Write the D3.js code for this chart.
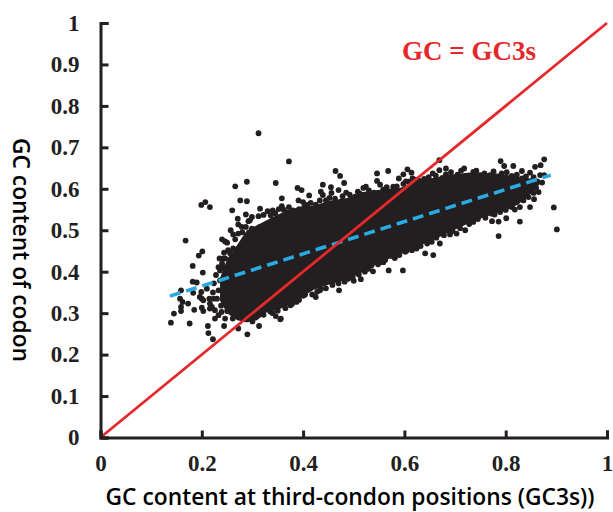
<!DOCTYPE html>
<html>
<head>
<meta charset="utf-8">
<script src="https://cdn.jsdelivr.net/npm/d3@7"></script>
<style>
html, body { margin: 0; padding: 0; background: #fff; }
svg { display: block; }
</style>
</head>
<body>
<div id="chart"></div>
<script>
// Ticks
var xTicks = [0, 0.2, 0.4, 0.6, 0.8, 1];
var yTicks = [0, 0.1, 0.2, 0.3, 0.4, 0.5, 0.6, 0.7, 0.8, 0.9, 1];

// The middle of the cloud is solid black in the picture, single genes can't be read there,
// so it is kept as a lower/upper envelope read per x position.
var coreX = [.236,.250,.270,.289,.309,.329,.348,.368,.388,.420,.453,.487,.518,.552,.591,.625,.656,.690,.724,.755,.789,.814,.842,.868];
var coreLow = [.330,.300,.283,.278,.283,.303,.307,.317,.331,.356,.370,.380,.399,.423,.441,.460,.476,.496,.515,.530,.544,.554,.578,.612];
var coreHigh = [.385,.430,.465,.500,.512,.525,.537,.547,.554,.559,.571,.578,.592,.597,.602,.619,.626,.634,.639,.639,.636,.631,.626,.622];

// Separate dots around the core: [GC3s, GC]
var upperLeftPoints = [
    [.312,.734],[.372,.666],[.266,.606],[.289,.617],[.346,.614],[.207,.568],[.199,.561],[.216,.556],
    [.276,.572],[.289,.570],[.260,.548],[.168,.475],[.201,.449],[.194,.439],[.182,.414],[.240,.478],
    [.246,.473],[.244,.446],[.235,.432],[.287,.538],[.312,.534],[.315,.552],[.340,.548],[.336,.536],
    [.257,.500],[.272,.514],[.271,.528],[.292,.522],[.299,.532],[.262,.456],[.246,.432],[.256,.429],
    [.272,.492],[.295,.524],[.315,.508],[.279,.508],[.287,.508],[.299,.504],[.250,.470],[.262,.490],
    [.252,.452],[.266,.478],[.280,.495],[.240,.420],[.228,.392],[.224,.372]
];
var lowerLeftPoints = [
    [.202,.398],[.182,.376],[.190,.374],[.159,.355],[.157,.335],[.162,.327],[.173,.323],[.159,.315],
    [.159,.305],[.145,.299],[.139,.277],[.176,.275],[.185,.308],[.200,.313],[.203,.305],[.212,.269],
    [.213,.252],[.222,.237],[.244,.269],[.272,.263],[.290,.249],[.313,.269],[.335,.304],[.346,.293],
    [.355,.285],[.220,.315],[.226,.287],[.246,.287],[.261,.287],[.200,.335],[.183,.349],[.215,.335],
    [.199,.351],[.210,.359],[.203,.331],[.196,.339],[.216,.323],[.226,.307],[.233,.295],[.239,.303],
    [.216,.311],[.223,.335],[.233,.355],[.236,.379],[.236,.403],[.243,.411],[.233,.411],[.243,.432],
    [.256,.444],[.222,.350],[.230,.335],[.238,.318],[.250,.305],[.262,.298],[.275,.290],[.288,.285]
];
var upperMiddlePoints = [
    [.464,.643],[.473,.631],[.481,.614],[.439,.610],[.389,.602],[.397,.597],[.412,.584],[.358,.577],
    [.435,.593],[.439,.585],[.433,.572],[.455,.604],[.456,.590],[.470,.597],[.485,.591],[.478,.582],
    [.495,.578],[.487,.563],[.508,.593],[.519,.602],[.524,.605],[.546,.637],[.568,.643],[.546,.619],
    [.552,.610],[.549,.591],[.578,.605],[.589,.625],[.572,.594],[.391,.572],[.400,.568],[.392,.551],
    [.420,.552],[.432,.552],[.470,.560],[.358,.558],[.368,.543]
];
var upperRightPoints = [
    [.606,.647],[.614,.639],[.598,.635],[.608,.617],[.621,.622],[.639,.624],[.656,.637],[.669,.645],
    [.669,.669],[.682,.649],[.682,.635],[.718,.649],[.736,.641],[.716,.629],[.749,.633],[.769,.633],
    [.790,.667],[.797,.655],[.815,.655],[.832,.643],[.848,.639],[.858,.653],[.869,.657],[.876,.671],
    [.792,.637],[.812,.631],[.832,.625],[.868,.633],[.876,.633]
];
var lowerRightPoints = [
    [.895,.555],[.901,.502],[.786,.486],[.828,.521],[.801,.529],[.786,.521],[.773,.522],[.848,.556],
    [.856,.575],[.845,.580],[.832,.585],[.828,.556],[.812,.556],[.822,.568],[.789,.544],[.772,.540],
    [.736,.520],[.720,.500],[.703,.492],[.690,.490],[.670,.468],[.654,.472],[.657,.440],[.641,.444],
    [.624,.456],[.605,.452],[.848,.605],[.835,.597],[.815,.593],[.860,.602],[.872,.615],[.855,.612]
];
var lowerMiddlePoints = [
    [.425,.339],[.471,.355],[.435,.358],[.500,.378],[.514,.382],[.538,.401],[.569,.403],[.597,.403],
    [.558,.423],[.581,.433],[.486,.385],[.404,.345],[.414,.361],[.356,.287],[.375,.319],[.387,.327],
    [.407,.355],[.433,.355],[.489,.383],[.529,.407],[.558,.423],[.581,.435]
];
// Dots that make the bumpy rim of the core.
var topRimPoints = [
    [.322,.537],[.330,.546],[.345,.541],[.352,.551],[.362,.549],[.372,.556],[.380,.548],[.402,.556],
    [.408,.561],[.415,.566],[.425,.562],[.445,.572],[.452,.578],[.463,.576],[.476,.570],[.492,.586],
    [.503,.581],[.512,.588],[.530,.596],[.540,.591],[.558,.598],[.565,.604],[.585,.606],[.598,.612],
    [.603,.618],[.616,.625],[.630,.619],[.648,.628],[.662,.632],[.675,.626],[.692,.640],[.705,.634],
    [.712,.644],[.728,.632],[.742,.644],[.758,.637],[.776,.642],[.783,.630],[.802,.640],[.822,.634],
    [.840,.630],[.855,.628],[.862,.618]
];
var bottomRimPoints = [
    [.300,.280],[.322,.296],[.340,.300],[.350,.306],[.365,.312],[.378,.322],[.392,.332],[.400,.342],
    [.418,.345],[.428,.352],[.445,.360],[.458,.368],[.470,.372],[.482,.376],[.498,.387],[.510,.393],
    [.522,.400],[.535,.415],[.548,.418],[.562,.428],[.575,.438],[.590,.440],[.602,.448],[.615,.452],
    [.632,.462],[.645,.468],[.663,.482],[.678,.488],[.695,.498],[.710,.505],[.728,.515],[.745,.527],
    [.760,.530],[.778,.538],[.800,.549],[.818,.550],[.835,.572],[.855,.590],[.865,.592]
];

var equalLine = [[0, 0], [1, 1]];
var fitLine = [[.137, .341], [.889, .633]];

var width = 613, height = 512;
var ink = '#231f20';
var serif = '"Liberation Serif", serif';
var sans = '"Open Sans", sans-serif';

var svg = d3.select('#chart').append('svg')
    .attr('width', width)
    .attr('height', height);

var x = d3.scaleLinear().domain([0, 1]).range([100.5, 607]);
var y = d3.scaleLinear().domain([0, 1]).range([437.5, 23]);

// Cloud core.
var coreArea = d3.area()
    .x(function(d) { return x(d[0]); })
    .y0(function(d) { return y(d[1]); })
    .y1(function(d) { return y(d[2]); })
    .curve(d3.curveLinear);

svg.append('path')
    .datum(d3.zip(coreX, coreLow, coreHigh))
    .attr('d', coreArea)
    .attr('fill', ink);

// Single dots.
var allPoints = [].concat(upperLeftPoints, lowerLeftPoints, upperMiddlePoints,
    upperRightPoints, lowerRightPoints, lowerMiddlePoints, topRimPoints, bottomRimPoints);

svg.append('g').selectAll('circle')
    .data(allPoints)
    .enter()
    .append('circle')
    .attr('cx', function(d) { return x(d[0]); })
    .attr('cy', function(d) { return y(d[1]); })
    .attr('r', 2.9)
    .attr('fill', ink);

var line = d3.line()
    .x(function(d) { return x(d[0]); })
    .y(function(d) { return y(d[1]); });

// Fit line, then GC = GC3s on top.
svg.append('path')
    .datum(fitLine)
    .attr('d', line)
    .attr('fill', 'none')
    .attr('stroke', '#29abe2')
    .attr('stroke-width', 3.6)
    .attr('stroke-dasharray', '11 6');

svg.append('path')
    .datum(equalLine)
    .attr('d', line)
    .attr('fill', 'none')
    .attr('stroke', '#e5282c')
    .attr('stroke-width', 2.8);

// Axes.
var xAxis = d3.axisBottom(x)
    .tickValues(xTicks)
    .tickSize(-7)
    .tickPadding(17)
    .tickFormat(function(d) { return d; });

var yAxis = d3.axisLeft(y)
    .tickValues(yTicks)
    .tickSize(-8)
    .tickPadding(21)
    .tickFormat(function(d) { return d; });

[[xAxis, 'translate(0,' + y(0) + ')'], [yAxis, 'translate(' + x(0) + ',0)']].forEach(function(a) {
    var g = svg.append('g')
        .attr('transform', a[1])
        .call(a[0]);
    g.select('.domain').attr('stroke', ink).attr('stroke-width', 3);
    g.selectAll('.tick line').attr('stroke', ink).attr('stroke-width', 3);
    g.selectAll('.tick text')
        .attr('fill', ink)
        .style('font-family', serif)
        .style('font-weight', 'bold')
        .style('font-size', '23px');
});

// Titles.
svg.append('text')
    .attr('x', 350)
    .attr('y', 505)
    .attr('text-anchor', 'middle')
    .style('font-family', sans)
    .style('font-weight', 600)
    .style('font-size', '22.8px')
    .attr('fill', '#000')
    .text('GC content at third-condon positions (GC3s))');

svg.append('text')
    .attr('transform', 'translate(13,250) rotate(90)')
    .attr('text-anchor', 'middle')
    .style('font-family', sans)
    .style('font-weight', 600)
    .style('font-size', '22.8px')
    .attr('fill', '#000')
    .text('GC content of codon');

svg.append('text')
    .attr('x', 402)
    .attr('y', 60)
    .style('font-family', serif)
    .style('font-weight', 'bold')
    .style('font-size', '27px')
    .attr('fill', '#e5282c')
    .text('GC = GC3s');
</script>
</body>
</html>
